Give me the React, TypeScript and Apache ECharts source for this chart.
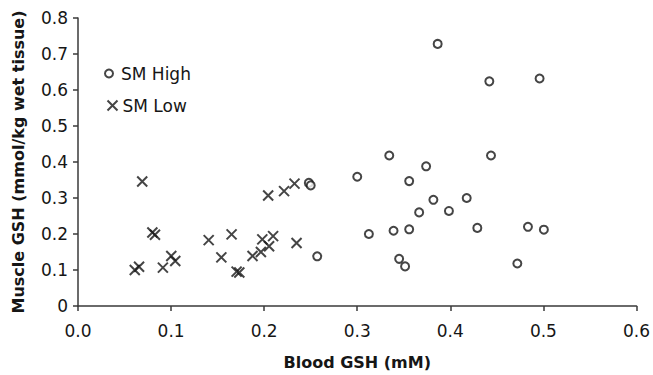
import React, { useEffect, useRef } from "react";
import * as echarts from "echarts";

// SM High (circles)
const highX = [0.248, 0.25, 0.257, 0.3, 0.3125, 0.3344, 0.339, 0.345, 0.3514, 0.3558, 0.3558, 0.3665, 0.374, 0.3818, 0.3864, 0.3985, 0.4176, 0.429, 0.4419, 0.4437, 0.472, 0.4834, 0.4959, 0.5005];
const highY = [0.342, 0.335, 0.138, 0.359, 0.2, 0.418, 0.209, 0.131, 0.11, 0.347, 0.213, 0.26, 0.388, 0.295, 0.728, 0.264, 0.3, 0.217, 0.624, 0.418, 0.118, 0.22, 0.632, 0.212];

// SM Low (crosses)
const lowX = [0.061, 0.0656, 0.069, 0.0799, 0.0827, 0.0912, 0.1002, 0.1045, 0.1404, 0.154, 0.165, 0.1704, 0.1733, 0.1875, 0.1965, 0.198, 0.2053, 0.2096, 0.2043, 0.2214, 0.2326, 0.2348];
const lowY = [0.1, 0.109, 0.346, 0.204, 0.198, 0.1065, 0.139, 0.125, 0.183, 0.135, 0.199, 0.0954, 0.093, 0.139, 0.15, 0.185, 0.166, 0.194, 0.307, 0.319, 0.34, 0.175];

const seriesNames = ["SM High", "SM Low"];
const xAxisTitle = "Blood GSH (mM)";
const yAxisTitle = "Muscle GSH (mmol/kg wet tissue)";

const FONT = "DejaVu Sans";
const INK = "#161616";
const AXIS = "#3a3a3a";
const CROSS = "path://M0,0L10,10M10,0L0,10";

export default function App() {
  const ref = useRef<HTMLDivElement>(null);
  useEffect(() => {
    const chart = echarts.init(ref.current!, null, { renderer: "svg" });
    const highData = highX.map((x, i) => [x, highY[i]]);
    const lowData = lowX.map((x, i) => [x, lowY[i]]);
    chart.setOption({
      animation: false,
      backgroundColor: "#ffffff",
      textStyle: { fontFamily: FONT },
      grid: { left: 78, right: 14, top: 18, bottom: 68 },
      legend: [
        {
          data: [
            {
              name: seriesNames[0],
              icon: "circle",
              itemStyle: { color: "#fff", borderColor: INK, borderWidth: 2 },
            },
          ],
          orient: "vertical",
          left: 104,
          top: 65,
          padding: 0,
          itemWidth: 14,
          itemHeight: 8,
          textStyle: { fontFamily: FONT, fontSize: 17, color: INK },
        },
        {
          data: [
            {
              name: seriesNames[1],
              icon: CROSS,
              itemStyle: { color: "none", borderColor: INK, borderWidth: 2 },
            },
          ],
          orient: "vertical",
          left: 105,
          top: 97,
          padding: 0,
          itemWidth: 10,
          itemHeight: 10,
          textStyle: { fontFamily: FONT, fontSize: 17, color: INK },
        },
      ],
      xAxis: {
        type: "value",
        min: 0,
        max: 0.6,
        interval: 0.1,
        name: xAxisTitle,
        nameLocation: "middle",
        nameGap: 48,
        nameTextStyle: { fontFamily: FONT, fontSize: 16, fontWeight: "bold", color: INK },
        axisLine: { show: true, lineStyle: { color: AXIS, width: 1.5 } },
        axisTick: { show: true, length: 5, lineStyle: { color: AXIS, width: 1.5 } },
        splitLine: { show: false },
        axisLabel: {
          margin: 16,
          fontFamily: FONT,
          fontSize: 17,
          color: INK,
          formatter: (v: number) => v.toFixed(1),
        },
      },
      yAxis: {
        type: "value",
        min: 0,
        max: 0.8,
        interval: 0.1,
        name: yAxisTitle,
        nameLocation: "middle",
        nameGap: 52,
        nameTextStyle: { fontFamily: FONT, fontSize: 16, fontWeight: "bold", color: INK },
        axisLine: { show: true, lineStyle: { color: AXIS, width: 1.5 } },
        axisTick: { show: true, length: 5, lineStyle: { color: AXIS, width: 1.5 } },
        splitLine: { show: false },
        axisLabel: {
          margin: 10,
          fontFamily: FONT,
          fontSize: 17,
          color: INK,
          formatter: (v: number) => (v === 0 ? "0" : v.toFixed(1)),
        },
      },
      series: [
        {
          name: seriesNames[0],
          type: "scatter",
          data: highData,
          symbol: "circle",
          symbolSize: 8,
          itemStyle: { color: "#fff", borderColor: INK, borderWidth: 2 },
          z: 3,
        },
        {
          name: seriesNames[1],
          type: "scatter",
          data: lowData,
          symbol: CROSS,
          symbolSize: 10,
          itemStyle: { color: "none", borderColor: INK, borderWidth: 2 },
          z: 2,
        },
      ],
    });
    return () => chart.dispose();
  }, []);
  return (
    <div
      ref={ref}
      style={{ position: "fixed", left: 0, top: 0, width: 653, height: 375 }}
    />
  );
}
